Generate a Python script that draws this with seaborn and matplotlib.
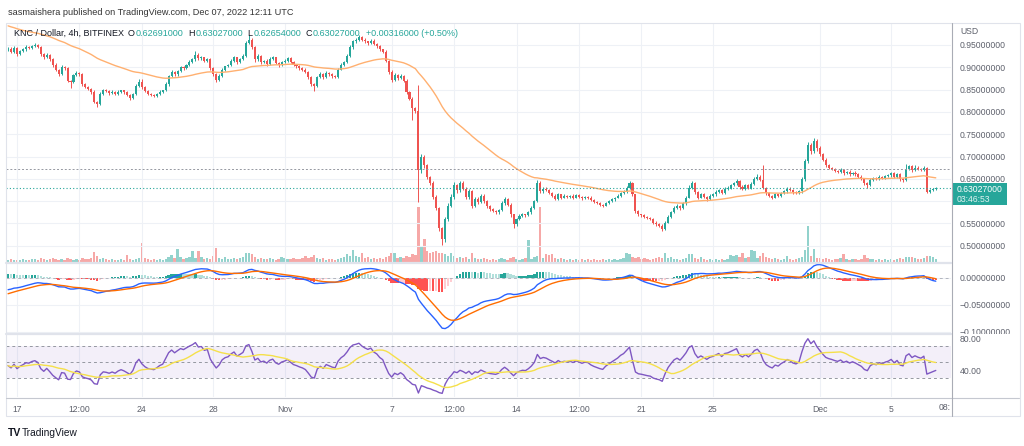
import numpy as np
import pandas as pd
import matplotlib
matplotlib.use("Agg")
import matplotlib.pyplot as plt
import matplotlib.dates as mdates
from matplotlib.lines import Line2D
from matplotlib.patches import Rectangle
from matplotlib.transforms import Bbox, TransformedBbox
import seaborn as sns

# KNC/USD 4h candles, Bitfinex, 2022-10-16 12:00 .. 2022-12-07 12:00 UTC
# values in thousandths of a dollar, one row per day (00 04 08 12 16 20 UTC)
FIRST_OPEN = 940
CLOSE = [
    942, 935, 944,                      # Oct 16
    930, 936, 940, 945, 944, 948,       # Oct 17
    950, 946, 930, 922, 928, 918,       # Oct 18
    905, 895, 885, 900, 898, 870,       # Oct 19
    868, 882, 888, 884, 862, 856,       # Oct 20
    852, 845, 822, 818, 840, 848,       # Oct 21
    846, 842, 845, 840, 845, 848,       # Oct 22
    844, 838, 832, 840, 858, 868,       # Oct 23
    855, 846, 840, 838, 836, 840,       # Oct 24
    845, 848, 862, 880, 890, 884,       # Oct 25
    892, 900, 898, 905, 912, 918,       # Oct 26
    928, 920, 922, 915, 918, 898,       # Oct 27
    885, 872, 880, 895, 902, 905,       # Oct 28
    915, 922, 912, 918, 925, 955,       # Oct 29
    962, 945, 918, 925, 912, 915,       # Oct 30
    908, 918, 922, 910, 905, 912,       # Oct 31
    915, 920, 912, 905, 902, 898,       # Nov 1
    895, 890, 878, 862, 858, 878,       # Nov 2
    885, 878, 888, 884, 880, 878,       # Nov 3
    895, 905, 912, 925, 945, 958,       # Nov 4
    962, 968, 962, 958, 955, 960,       # Nov 5
    952, 948, 940, 935, 915, 890,       # Nov 6
    872, 882, 875, 880, 870, 845,       # Nov 7
    830, 808, 802, 670, 700, 680,       # Nov 8
    655, 640, 610, 585, 540, 515,       # Nov 9
    560, 590, 610, 635, 625, 640,       # Nov 10
    628, 610, 622, 590, 605, 598,       # Nov 11
    612, 600, 588, 582, 578, 575,       # Nov 12
    580, 595, 605, 592, 570, 548,       # Nov 13
    560, 566, 570, 568, 575, 585,       # Nov 14
    600, 640, 622, 628, 625, 618,       # Nov 15
    612, 605, 615, 608, 612, 610,       # Nov 16
    612, 608, 613, 610, 606, 609,       # Nov 17
    608, 602, 598, 595, 592, 590,       # Nov 18
    596, 600, 604, 608, 612, 618,       # Nov 19
    622, 630, 640, 615, 578, 570,       # Nov 20
    568, 565, 562, 560, 552, 548,       # Nov 21
    545, 538, 552, 565, 575, 585,       # Nov 22
    590, 585, 595, 608, 630, 640,       # Nov 23
    620, 608, 615, 610, 605, 612,       # Nov 24
    615, 620, 625, 618, 628, 630,       # Nov 25
    635, 640, 645, 632, 628, 635,       # Nov 26
    630, 638, 650, 655, 648, 630,       # Nov 27
    618, 612, 608, 615, 612, 618,       # Nov 28
    622, 628, 625, 620, 618, 622,       # Nov 29
    650, 690, 725, 712, 735, 718,       # Nov 30
    705, 692, 680, 675, 672, 668,       # Dec 1
    665, 670, 662, 666, 660, 664,       # Dec 2
    660, 655, 650, 640, 636, 648,       # Dec 3
    652, 650, 655, 652, 656, 658,       # Dec 4
    662, 655, 660, 650, 648, 672,       # Dec 5
    678, 670, 675, 672, 670, 675,       # Dec 6
    621, 624, 627, 630,                 # Dec 7
]
# wick above max(open, close) and below min(open, close), thousandths
WICK_UP = [
    3, 4, 3,
    2, 3, 3, 4, 2, 3,
    4, 3, 2, 3, 4, 2,
    3, 4, 2, 5, 3, 2,
    2, 4, 3, 2, 3, 2,
    3, 2, 3, 2, 4, 3,
    3, 2, 3, 2, 3, 2,
    2, 3, 2, 3, 4, 6,
    5, 3, 2, 3, 2, 3,
    3, 2, 4, 3, 5, 2,
    3, 4, 2, 3, 4, 3,
    8, 3, 4, 2, 3, 2,
    3, 2, 4, 3, 2, 3,
    3, 4, 2, 3, 4, 5,
    10, 3, 2, 4, 3, 2,
    3, 4, 3, 2, 3, 2,
    4, 3, 2, 3, 2, 3,
    2, 3, 2, 3, 2, 3,
    4, 3, 3, 2, 3, 2,
    3, 4, 3, 4, 5, 4,
    3, 4, 2, 3, 2, 3,
    3, 2, 3, 2, 3, 2,
    3, 5, 3, 4, 2, 3,
    2, 4, 3, 58, 6, 4,
    3, 2, 4, 3, 2, 3,
    4, 5, 6, 8, 4, 6,
    5, 4, 6, 3, 5, 4,
    4, 3, 2, 3, 2, 3,
    3, 5, 4, 2, 3, 2,
    3, 4, 3, 2, 3, 4,
    3, 8, 5, 4, 3, 2,
    3, 4, 3, 2, 3, 2,
    2, 3, 2, 3, 2, 2,
    2, 3, 2, 2, 3, 2,
    3, 2, 3, 2, 3, 3,
    3, 4, 5, 3, 2, 3,
    2, 3, 2, 3, 2, 3,
    2, 3, 3, 4, 3, 4,
    3, 2, 3, 4, 5, 5,
    3, 2, 4, 3, 2, 3,
    3, 4, 3, 2, 4, 3,
    4, 3, 4, 2, 3, 4,
    3, 4, 3, 5, 4, 33,
    2, 3, 2, 3, 2, 3,
    3, 4, 3, 2, 3, 3,
    4, 5, 8, 6, 6, 4,
    6, 3, 4, 3, 2, 3,
    2, 4, 3, 2, 3, 2,
    3, 2, 3, 2, 3, 4,
    3, 2, 3, 2, 3, 2,
    3, 4, 2, 3, 2, 11,
    4, 3, 5, 3, 2, 3,
    2, 3, 2, 1,
]
WICK_DN = [
    3, 3, 2,
    5, 3, 2, 3, 3, 2,
    2, 3, 4, 3, 2, 4,
    4, 3, 5, 2, 3, 4,
    15, 3, 2, 3, 4, 3,
    3, 4, 3, 6, 2, 3,
    2, 3, 2, 3, 2, 3,
    3, 2, 5, 2, 3, 2,
    3, 2, 3, 2, 3, 2,
    2, 3, 2, 3, 2, 3,
    3, 2, 3, 2, 3, 2,
    3, 4, 3, 2, 3, 4,
    4, 5, 3, 2, 3, 2,
    3, 2, 4, 3, 2, 3,
    3, 4, 5, 3, 4, 3,
    4, 3, 2, 3, 4, 3,
    3, 2, 3, 2, 3, 3,
    3, 2, 4, 5, 11, 3,
    3, 5, 2, 3, 4, 3,
    3, 2, 3, 2, 3, 3,
    3, 2, 4, 3, 4, 2,
    3, 4, 3, 2, 4, 5,
    6, 3, 4, 2, 3, 5,
    4, 26, 5, 71, 6, 5,
    5, 4, 6, 5, 7, 13,
    6, 5, 4, 5, 6, 4,
    4, 6, 5, 6, 4, 5,
    3, 4, 3, 4, 3, 3,
    3, 2, 3, 4, 5, 8,
    4, 3, 2, 3, 2, 3,
    3, 2, 4, 3, 2, 3,
    3, 2, 3, 4, 2, 3,
    2, 3, 2, 2, 3, 2,
    3, 2, 3, 2, 3, 3,
    2, 3, 2, 3, 2, 3,
    2, 3, 2, 3, 4, 3,
    3, 2, 3, 2, 4, 3,
    4, 6, 3, 2, 3, 2,
    3, 4, 2, 3, 2, 3,
    4, 3, 2, 3, 4, 2,
    2, 3, 2, 3, 2, 3,
    3, 2, 3, 4, 3, 2,
    3, 2, 3, 2, 3, 3,
    4, 3, 4, 2, 3, 2,
    2, 3, 2, 3, 2, 3,
    3, 4, 5, 6, 4, 5,
    4, 3, 4, 3, 3, 2,
    3, 2, 3, 2, 3, 2,
    3, 4, 3, 5, 7, 3,
    3, 2, 3, 2, 3, 2,
    3, 4, 3, 4, 5, 2,
    3, 4, 3, 2, 3, 3,
    3, 2, 2, 1,
]
# volume, arbitrary units
VOLUME = [
    2, 3, 2,
    2, 2, 3, 2, 2, 3,
    3, 2, 4, 3, 2, 3,
    4, 3, 2, 3, 2, 4,
    3, 2, 3, 2, 4, 3,
    3, 4, 11, 6, 3, 4,
    3, 2, 3, 2, 2, 3,
    2, 7, 3, 2, 3, 4,
    20, 4, 3, 2, 3, 2,
    3, 2, 3, 5, 7, 4,
    14, 5, 3, 4, 5, 12,
    4, 12, 5, 3, 4, 3,
    6, 15, 4, 3, 5, 3,
    3, 4, 3, 4, 5, 9,
    9, 8, 5, 3, 4, 3,
    3, 4, 3, 2, 3, 5,
    4, 3, 3, 4, 3, 3,
    4, 6, 4, 5, 7, 4,
    3, 4, 2, 3, 3, 2,
    3, 4, 5, 8, 6, 13,
    6, 5, 10, 4, 5, 3,
    4, 3, 4, 3, 5, 6,
    9, 10, 4, 5, 4, 6,
    5, 8, 7, 58, 16, 24,
    12, 10, 11, 12, 10, 9,
    8, 6, 9, 6, 4, 5,
    4, 5, 3, 9, 4, 3,
    3, 4, 3, 2, 3, 2,
    3, 4, 3, 2, 4, 5,
    3, 2, 3, 4, 23, 3,
    5, 6, 58, 4, 8, 7,
    8, 4, 3, 4, 3, 2,
    3, 2, 3, 2, 3, 2,
    3, 2, 3, 2, 2, 3,
    2, 3, 2, 3, 2, 3,
    4, 9, 8, 5, 4, 5,
    3, 4, 3, 2, 3, 4,
    5, 4, 10, 4, 5, 3,
    3, 2, 3, 4, 8, 8,
    4, 3, 5, 3, 2, 3,
    2, 3, 2, 3, 2, 3,
    7, 6, 7, 5, 9, 4,
    5, 13, 12, 4, 6, 9,
    5, 4, 3, 4, 3, 2,
    3, 6, 3, 2, 3, 4,
    5, 13, 38, 6, 14, 4,
    4, 3, 4, 3, 2, 3,
    3, 4, 8, 3, 2, 3,
    3, 2, 3, 7, 4, 3,
    3, 2, 3, 2, 3, 2,
    3, 2, 3, 4, 3, 5,
    5, 5, 4, 3, 3, 4,
    6, 6, 5, 3,
]
assert len(CLOSE) == len(WICK_UP) == len(WICK_DN) == len(VOLUME)

EMA50_START = 0.995
EMA12_START, EMA26_START = 0.9415, 0.965
SIGNAL_START = -0.031
RSI_GAIN_START, RSI_LOSS_START = 0.0040, 0.0048

PRICE_TICKS = [0.50, 0.55, 0.60, 0.65, 0.70, 0.75, 0.80, 0.85, 0.90, 0.95]
MACD_TICKS = [0.0, -0.05, -0.10]
RSI_TICKS = [80, 40]
TIME_TICKS = ["2022-10-17 00:00", "2022-10-20 12:00", "2022-10-24 00:00", "2022-10-28 00:00",
              "2022-11-01 00:00", "2022-11-07 00:00", "2022-11-10 12:00", "2022-11-14 00:00",
              "2022-11-17 12:00", "2022-11-21 00:00", "2022-11-25 00:00", "2022-12-01 00:00",
              "2022-12-05 00:00"]
TIME_LABELS = ["17", "12:00", "24", "28", "Nov", "7", "12:00", "14",
               "12:00", "21", "25", "Dec", "5"]

UP, DOWN = "#26a69a", "#ef5350"
GRID = "#eef1f6"
AXIS_TXT = "#5d606b"
FS = 6.2
FONT = ["Liberation Sans", "DejaVu Sans"]


def ema(values, span, start):
    a = 2.0 / (span + 1)
    out, prev = [], start
    for v in values:
        prev = a * v + (1 - a) * prev
        out.append(prev)
    return np.array(out)


def rsi(values, n, gain0, loss0):
    ag, al = gain0, loss0
    out = []
    prev = values[0]
    for v in values:
        d = v - prev
        prev = v
        ag = (ag * (n - 1) + max(d, 0)) / n
        al = (al * (n - 1) + max(-d, 0)) / n
        out.append(100 - 100 / (1 + ag / al))
    return np.array(out)


close = np.array(CLOSE) / 1000
opn = np.r_[FIRST_OPEN / 1000, close[:-1]]
high = np.maximum(opn, close) + np.array(WICK_UP) / 1000
low = np.minimum(opn, close) - np.array(WICK_DN) / 1000
vol = np.array(VOLUME, dtype=float)
times = pd.date_range("2022-10-16 12:00", periods=len(close), freq="4h")
xs = mdates.date2num(times)
up = close >= opn

ema50 = ema(close, 50, EMA50_START)
macd = ema(close, 12, EMA12_START) - ema(close, 26, EMA26_START)
signal = ema(macd, 9, SIGNAL_START)
hist = macd - signal
prev_hist = np.r_[hist[0], hist[:-1]]
hist_colors = np.where(hist >= 0,
                       np.where(hist >= prev_hist, "#26a69a", "#b2dfdb"),
                       np.where(hist < prev_hist, "#ff5252", "#ffcdd2"))
rsi_line = rsi(close, 14, RSI_GAIN_START, RSI_LOSS_START)
rsi_ma = pd.Series(rsi_line).rolling(14, min_periods=1).mean().values

sns.set_theme(style="white")
plt.rcParams["font.family"] = FONT

W, H = 1024, 446
fig = plt.figure(figsize=(W / 100, H / 100), dpi=100)
fig.patch.set_facecolor("white")


def box(x0, y0, x1, y1):
    return [x0 / W, 1 - y1 / H, (x1 - x0) / W, (y1 - y0) / H]


def fig_line(x0, y0, x1, y1, color, lw):
    fig.add_artist(Line2D([x0 / W, x1 / W], [1 - y0 / H, 1 - y1 / H],
                          color=color, lw=lw, transform=fig.transFigure))


oct17 = mdates.date2num(pd.Timestamp("2022-10-17"))
x_left = oct17 - 11 / 17.84
x_right = x_left + 945 / 17.84
tick_x = mdates.date2num(pd.to_datetime(TIME_TICKS, format="%Y-%m-%d %H:%M"))

ax_vol = fig.add_axes(box(6, 23, 951, 262))
ax_p = fig.add_axes(box(6, 23, 951, 262))
ax_m = fig.add_axes(box(6, 264, 951, 333))
ax_r = fig.add_axes(box(6, 335, 951, 397))

for ax in (ax_vol, ax_p, ax_m, ax_r):
    ax.set_xlim(x_left, x_right)
    for s in ax.spines.values():
        s.set_visible(False)
    ax.set_facecolor("none")
    ax.set_xticks(tick_x)
    ax.tick_params(axis="x", length=0, labelbottom=False)
    ax.tick_params(axis="y", length=0, pad=6.5, labelsize=FS, labelcolor=AXIS_TXT)
    ax.yaxis.tick_right()
    ax.grid(True, color=GRID, lw=0.8)
    ax.set_axisbelow(True)

# volume under the candles
ax_vol.grid(False)
ax_vol.set_xticks([])
ax_vol.set_yticks([])
ax_vol.set_ylim(0, 60 * 240 / 57)
ax_vol.bar(xs, vol, width=0.13, color=np.where(up, UP, DOWN), alpha=0.5, lw=0)

# candles; the 0.60 label sits under the last price tag
ax_p.set_ylim(0.95 - (262 - 45) * 0.002242, 0.95 + (45 - 23) * 0.002242)
ax_p.set_yticks(PRICE_TICKS)
ax_p.set_yticklabels(["" if t == 0.60 else f"{t:.8f}" for t in PRICE_TICKS])
colors = np.where(up, UP, DOWN)
ax_p.vlines(xs, low, high, colors=colors, lw=0.7)
body = np.maximum(np.abs(close - opn), 0.0008)
ax_p.bar(xs, body, bottom=np.minimum(opn, close), width=0.115, color=colors, lw=0)
sns.lineplot(x=xs, y=ema50, ax=ax_p, color="#ffb070", lw=1.0, legend=False)
ax_p.axhline(0.672, color="#9598a1", lw=0.7, ls=(0, (2, 2)))
ax_p.axhline(close[-1], color=UP, lw=0.8, ls=(0, (1, 2)))

# MACD 12 26 9
ax_m.set_ylim(-0.1019, 0.0259)
ax_m.set_yticks(MACD_TICKS)
ax_m.set_yticklabels(["0.00000000", "\u22120.05000000", "\u22120.10000000"])
ax_m.bar(xs, hist, width=0.13, color=hist_colors, lw=0)
ax_m.axhline(0, color="#b2b5be", lw=0.7, ls=(0, (3, 3)))
sns.lineplot(x=xs, y=macd, ax=ax_m, color="#2962ff", lw=1.0, legend=False)
sns.lineplot(x=xs, y=signal, ax=ax_m, color="#ff6d00", lw=1.0, legend=False)
# the lowest MACD label is cut by the RSI pane, as in the reference
clip = TransformedBbox(Bbox([[0, 1 - 334 / H], [1, 1]]), fig.transFigure)
for lab in ax_m.get_yticklabels():
    lab.set_clip_box(clip)
    lab.set_clip_on(True)

# RSI 14 with its 14 period average
ax_r.set_ylim(6.25, 83.75)
ax_r.set_yticks(RSI_TICKS)
ax_r.set_yticklabels([f"{t:.2f}" for t in RSI_TICKS])
ax_r.yaxis.grid(False)
ax_r.axhspan(30, 70, color="#7e57c2", alpha=0.09, lw=0)
for lvl in (70, 50, 30):
    ax_r.axhline(lvl, color="#9598a1", lw=0.7, ls=(0, (3, 3)))
sns.lineplot(x=xs, y=rsi_line, ax=ax_r, color="#7e57c2", lw=1.0, legend=False)
sns.lineplot(x=xs, y=rsi_ma, ax=ax_r, color="#f5e04a", lw=1.0, legend=False)
ax_r.set_xticklabels(TIME_LABELS)
ax_r.tick_params(axis="x", labelbottom=True, pad=5.5, labelsize=FS, labelcolor=AXIS_TXT)

# frame and separators
fig.add_artist(Rectangle((5.5 / W, 1 - 415.5 / H), 1014 / W, 393 / H, fill=False,
                         ec="#e0e3eb", lw=0.8, transform=fig.transFigure))
fig_line(6, 263, 951, 263, "#e0e3eb", 1.6)
fig_line(6, 334, 951, 334, "#e0e3eb", 1.6)
fig_line(6, 397.5, 1019, 397.5, "#c5c8d0", 0.8)
fig_line(951.5, 22.5, 951.5, 415.5, "#a9acb5", 0.8)

# last price tag
fig.add_artist(Rectangle((953 / W, 1 - 204.5 / H), 54 / W, 21.5 / H, fc="#26a69a",
                         ec="none", transform=fig.transFigure))
fig.text(957 / W, 1 - 189 / H, "0.63027000", color="white", fontsize=FS, va="center")
fig.text(957 / W, 1 - 199.5 / H, "03:46:53", color="#e0f2f1", fontsize=FS, va="center")
fig.text(960 / W, 1 - 32 / H, "USD", color=AXIS_TXT, fontsize=FS, va="center")
fig.text(945 / W, 1 - 408 / H, "08:", color=AXIS_TXT, fontsize=FS, va="center", ha="center")

# header and legend
fig.text(8 / W, 1 - 12.5 / H, "sasmaishera published on TradingView.com, Dec 07, 2022 12:11 UTC",
         color="#333333", fontsize=6.6, va="center")
renderer = fig.canvas.get_renderer()
legend = [("KNC / Dollar, 4h, BITFINEX", "#131722", 4),
          ("O", "#131722", 0.5), ("0.62691000", UP, 5),
          ("H", "#131722", 0.5), ("0.63027000", UP, 5),
          ("L", "#131722", 0.5), ("0.62654000", UP, 5),
          ("C", "#131722", 0.5), ("0.63027000", UP, 5),
          ("+0.00316000 (+0.50%)", UP, 0)]
x = 14
for s, c, gap in legend:
    t = fig.text(x / W, 1 - 33.5 / H, s, color=c, fontsize=6.5, va="center")
    x = t.get_window_extent(renderer).x1 + gap

fig.text(8 / W, 1 - 433 / H, "TV", color="#131722", fontsize=7.5, va="center", weight="bold")
fig.text(22 / W, 1 - 433 / H, "TradingView", color="#131722", fontsize=7.3, va="center")

fig.savefig("out.png", dpi=100, facecolor="white")
